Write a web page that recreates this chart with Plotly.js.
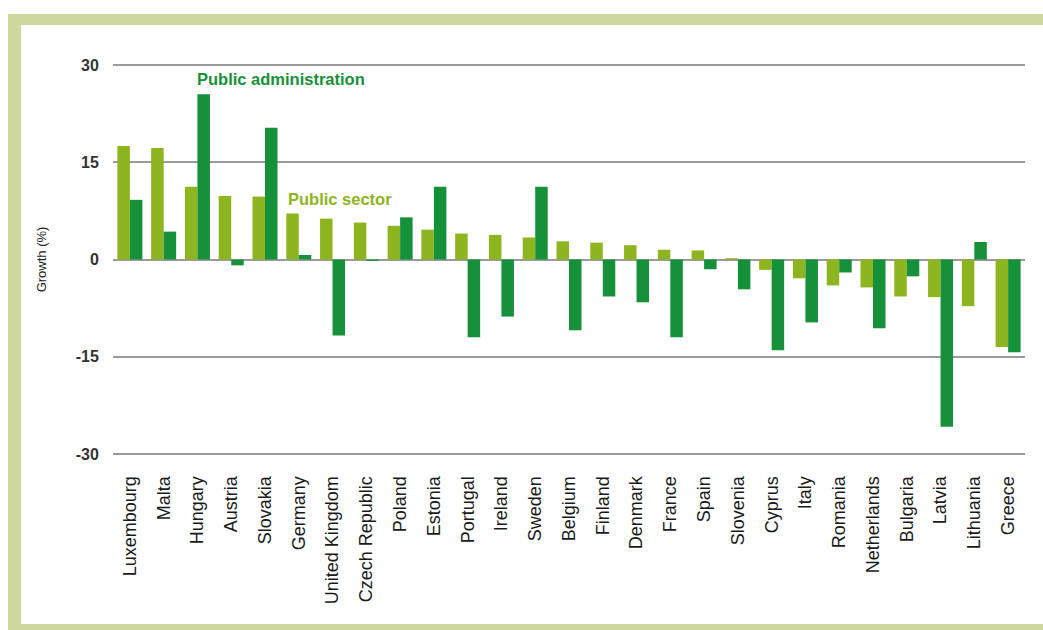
<!DOCTYPE html>
<html>
<head>
<meta charset="utf-8">
<script src="https://cdn.plot.ly/plotly-3.0.1.min.js"></script>
<style>
  html, body { margin: 0; padding: 0; background: #ffffff; }
  #wrap { position: relative; width: 1043px; height: 630px; overflow: hidden; background: #ffffff; }
  .band { position: absolute; background: #cfd99d; }
  #chart { position: absolute; left: 0; top: 0; width: 1043px; height: 630px; }
</style>
</head>
<body>
<div id="wrap">
  <div class="band" style="left:8px; top:14px; width:1035px; height:11px;"></div>
  <div class="band" style="left:8px; top:14px; width:13px; height:616px;"></div>
  <div class="band" style="left:8px; top:624px; width:1035px; height:6px;"></div>
  <div id="chart"></div>
</div>
<script>
const countries = ["Luxembourg","Malta","Hungary","Austria","Slovakia","Germany","United Kingdom","Czech Republic","Poland","Estonia","Portugal","Ireland","Sweden","Belgium","Finland","Denmark","France","Spain","Slovenia","Cyprus","Italy","Romania","Netherlands","Bulgaria","Latvia","Lithuania","Greece"];
const publicSector = [17.5,17.2,11.2,9.8,9.7,7.1,6.3,5.7,5.2,4.6,4.0,3.8,3.4,2.8,2.6,2.2,1.5,1.4,0.2,-1.6,-2.9,-4.0,-4.3,-5.7,-5.8,-7.2,-13.5];
const publicAdmin = [9.2,4.3,25.5,-0.9,20.3,0.7,-11.7,-0.2,6.5,11.2,-12.0,-8.8,11.2,-10.9,-5.7,-6.6,-12.0,-1.5,-4.6,-14.0,-9.7,-2.0,-10.6,-2.6,-25.8,2.7,-14.3];
const yTicks = [-30,-15,0,15,30];
const seriesNames = ["Public sector","Public administration"];

const lightGreen = "#8db520";
const darkGreen = "#17903a";

const data = [
  { type: "bar", name: seriesNames[0], x: countries, y: publicSector, marker: { color: lightGreen }, hoverinfo: "x+y" },
  { type: "bar", name: seriesNames[1], x: countries, y: publicAdmin, marker: { color: darkGreen }, hoverinfo: "x+y" }
];

const layout = {
  width: 1043, height: 630,
  margin: { l: 113, r: 18, t: 63, b: 174 },
  paper_bgcolor: "rgba(0,0,0,0)",
  plot_bgcolor: "rgba(0,0,0,0)",
  barmode: "group",
  bargap: 0.26,
  bargroupgap: 0,
  showlegend: false,
  font: { family: "Liberation Sans, Arial, sans-serif", color: "#222" },
  xaxis: {
    type: "category",
    tickangle: -90,
    showgrid: false,
    zeroline: false,
    showline: false,
    ticks: "outside", ticklen: 12, tickcolor: "rgba(0,0,0,0)",
    tickfont: { size: 18, color: "#1a1a1a", family: "Liberation Sans, Arial, sans-serif" }
  },
  yaxis: {
    range: [-30.3, 30.3],
    tickvals: yTicks,
    ticktext: yTicks.map(String),
    showgrid: true, gridcolor: "#9a9a9a", gridwidth: 2,
    zeroline: true, zerolinecolor: "#9a9a9a", zerolinewidth: 2,
    showline: false,
    ticks: "outside", ticklen: 10, tickcolor: "rgba(0,0,0,0)",
    tickfont: { size: 16, color: "#333", family: "Liberation Sans, Arial, sans-serif", weight: "bold" },
    title: { text: "Growth (%)", font: { size: 13, color: "#222" }, standoff: 26 }
  },
  annotations: [
    { text: "<b>Public administration</b>", x: "Hungary", y: 27.8, xref: "x", yref: "y", xanchor: "left", yanchor: "middle", xshift: -2, showarrow: false, font: { size: 16.5, color: darkGreen } },
    { text: "<b>Public sector</b>", x: "Slovakia", y: 9.4, xref: "x", yref: "y", xanchor: "left", yanchor: "middle", xshift: 21, showarrow: false, font: { size: 16.5, color: lightGreen } }
  ]
};

Plotly.newPlot("chart", data, layout, { displayModeBar: false, staticPlot: true });
</script>
</body>
</html>
